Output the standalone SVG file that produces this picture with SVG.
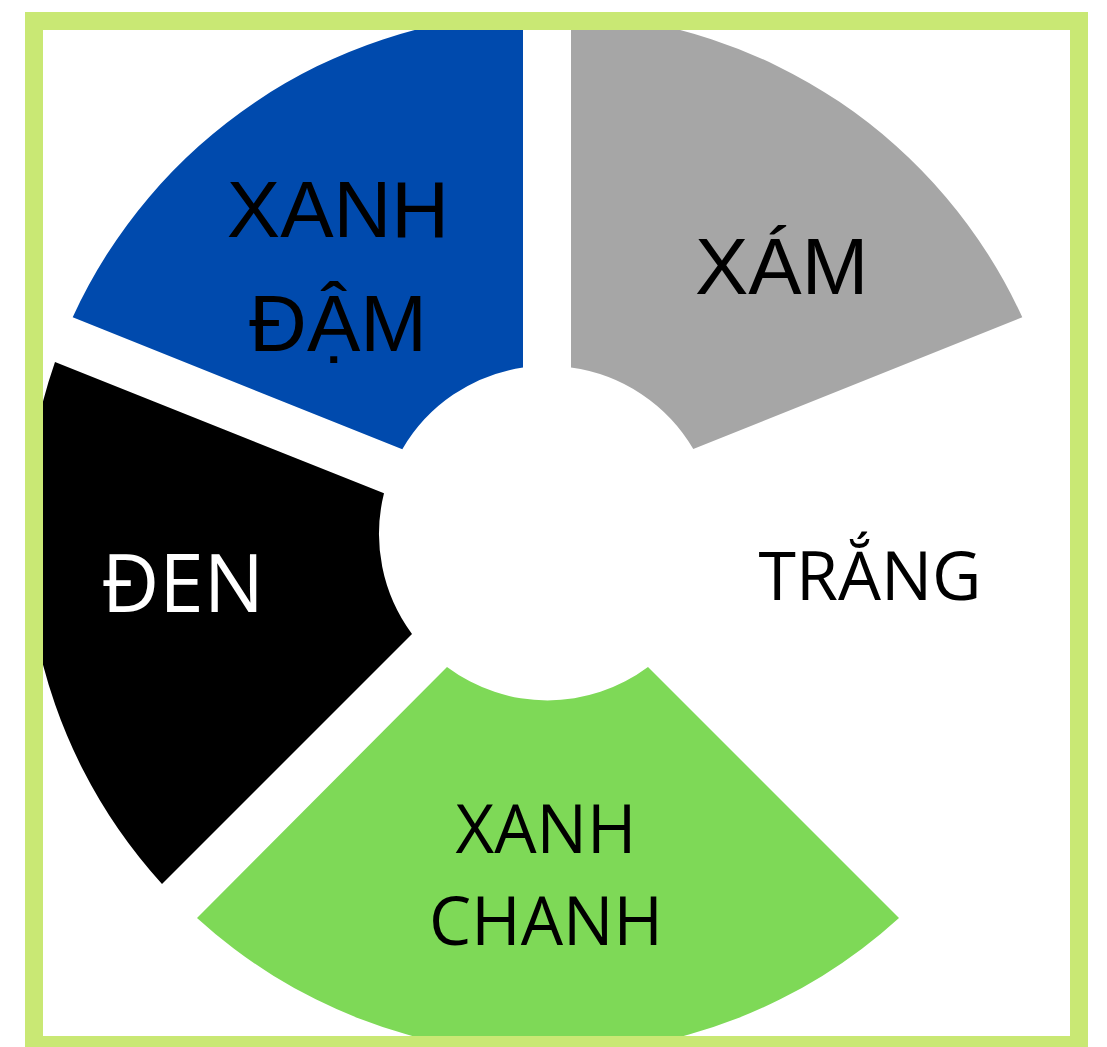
<svg xmlns="http://www.w3.org/2000/svg" width="1107" height="1047" viewBox="0 0 1107 1047">
  <defs>
    <clipPath id="inner">
      <rect x="43" y="30" width="1027" height="1006"/>
    </clipPath>
    <style>
      .arial { font-family: "Liberation Sans", Arial, sans-serif; font-size: 80px; fill: #000; }
      .open { font-family: "Open Sans", "Noto Sans", sans-serif; fill: #000; }
      text { text-anchor: middle; }
    </style>
  </defs>
  <rect x="0" y="0" width="1107" height="1047" fill="#ffffff"/>
  <g clip-path="url(#inner)">
    <g id="node-xanh-dam">
      <path d="M 523 13.6 A 521 521 0 0 0 72.7 317.3 L 402.3 449.3 A 168 168 0 0 1 523 367.5 Z" fill="#004AAD"/>
      <text class="arial" x="338" y="236.7">XANH</text>
      <text class="arial" x="338" y="351">ĐẬM</text>
    </g>
    <g id="node-xam">
      <path d="M 571 13.6 A 521 521 0 0 1 1022.3 317.3 L 693.3 449 A 168 168 0 0 0 571 367.5 Z" fill="#A6A6A6"/>
      <text class="arial" x="781.6" y="294">XÁM</text>
    </g>
    <g id="node-trang">
      <path d="M 1039.3 363.6 A 521 521 0 0 1 932 884 L 682 634 A 168 168 0 0 0 710.4 495.1 Z" fill="#ffffff"/>
      <text class="open" x="870" y="600" font-size="68">TRẮNG</text>
    </g>
    <g id="node-xanh-chanh">
      <path d="M 197 918 A 521 521 0 0 0 899 918 L 648 667 A 168 168 0 0 1 447 667 Z" fill="#7ED957"/>
      <text class="open" x="546" y="853.3" font-size="67">XANH</text>
      <text class="open" x="546" y="945" font-size="67">CHANH</text>
    </g>
    <g id="node-den">
      <path d="M 55 362 A 521 521 0 0 0 162 884 L 412 634 A 168 168 0 0 1 384 493.3 Z" fill="#000000"/>
      <text class="open" x="182.5" y="611.7" font-size="80" style="fill:#ffffff">ĐEN</text>
    </g>
  </g>
  <g id="connectors"/>
  <rect id="frame" x="34" y="21" width="1045" height="1024" fill="none" stroke="#C9E874" stroke-width="18"/>
</svg>
